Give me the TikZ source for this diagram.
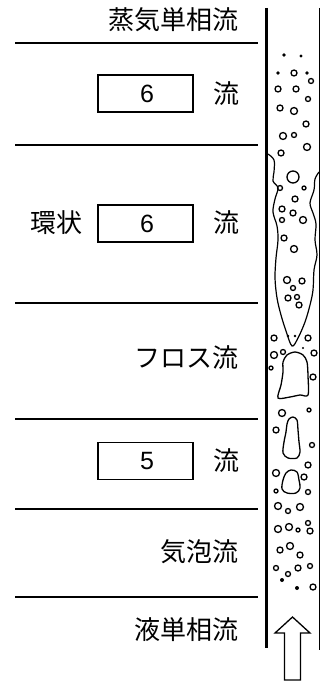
\documentclass[tikz,border=0pt]{standalone}
\usepackage{fontspec}
\setmainfont{Noto Sans CJK JP}
\newfontfamily\digitfont{Liberation Sans}
\begin{document}
\begin{tikzpicture}[x=1pt,y=-1pt,
  sepline/.style={line width=1.4pt},
  lbl/.style={font=\fontsize{26}{28}\selectfont, inner sep=0pt},
  numbox/.style={draw, line width=1.4pt, minimum width=95pt, minimum height=37pt, inner sep=0pt,
    font=\digitfont\fontsize{25}{27}\selectfont},
  wall/.style={line width=3.2pt},
  thinwall/.style={line width=1pt},
  bub/.style={draw, line width=1.3pt},
  drop/.style={fill=black},
  film/.style={line width=1.2pt}]
\useasboundingbox (0,0) rectangle (321,684);

% separators
\foreach \yy/\nm in {43/s1,145/s2,303/s3,419/s4,509/s5,597/s6}{
  \coordinate (\nm a) at (15,\yy); \coordinate (\nm b) at (258,\yy);
  \draw[sepline] (\nm a) -- (\nm b);
}

% labels
\node[lbl, anchor=east] (t1) at (239,20) {蒸気単相流};
\node[numbox] (b1) at (145.5,93.5) {\hspace{3pt}6};
\node[lbl] (f1) at (226,94) {流};
\node[lbl] (k2) at (56,223) {環状};
\node[numbox] (b2) at (145.5,223.5) {\hspace{3pt}6};
\node[lbl] (f2) at (226,223) {流};
\node[lbl, anchor=east] (t3) at (239,358) {フロス流};
\node[numbox] (b3) at (145.5,461) {\hspace{3pt}5};
\node[lbl] (f3) at (226,461) {流};
\node[lbl, anchor=east] (t5) at (239,552) {気泡流};
\node[lbl, anchor=east] (t6) at (239,630) {液単相流};

% tube walls
\coordinate (lw1) at (266.5,8); \coordinate (lw2) at (266.5,648);
\coordinate (rw1) at (319.5,8); \coordinate (rw2) at (319.5,650);
\draw[wall] (lw1) -- (lw2);
\draw[thinwall] (rw1) -- (rw2);

% annular core outline
\draw[film] plot[smooth, tension=0.55] coordinates {
  (268,154) (274,160) (274,172) (273,181) (278,188) (275,199) (273,212) (277,226)
  (278,240) (276,258) (275,278) (277,298) (281,315) (286,331) (292,346)
  (298,338) (305,322) (310,305) (313,290) (314,270) (317,255) (315,240) (316,224)
  (313,213) (310,203) (314,190) (315,179) (319,172)};

% slugs
\draw[bub] plot[smooth cycle, tension=0.5] coordinates {
  (278,398) (281,385) (283,372) (283,362) (287,355) (295,352) (303,355) (307,362)
  (308,376) (308,395) (300,395) (290,397)};
\draw[bub] plot[smooth cycle, tension=0.5] coordinates {
  (287,424) (289,419) (293,417) (297,420) (298,430) (299,442) (300,452) (297,458)
  (288,458) (283,453) (284,442) (286,432)};
\draw[bub] plot[smooth cycle, tension=0.55] coordinates {
  (291,470) (297,472) (299,480) (300,488) (296,493) (287,493) (282,489) (283,480) (286,473)};

% droplets (filled)
\foreach \px/\py/\r in {284/55/1.8, 301/56/1.6, 278/73/1.8, 307/73/1.8, 288/336/1.3, 295/336/1.3,
  303/348/1.2, 282/580/2, 297/588/2}{
  \fill[drop] (\px,\py) circle[radius=\r];
}

% bubbles (open)
\foreach \px/\py/\r in {294/73/3, 311/81/2.5, 278/89/3, 296/89/3, 308/99/2.5, 280/108/3, 294/111/3.5,
  306/124/3, 283/136/3.5, 294/135/2.5, 281/153/3, 307/147/3.5,
  293/177/6, 280/188/2.5, 304/188/2, 295/199/3, 282/209/3, 293/213/3, 303/220/3.5, 282/220/2.5,
  284/238/3, 294/249/3.5, 287/280/3.5, 302/281/3, 293/288/2.5, 288/298/3, 297/297/2.5, 299/305/3,
  274/338/3, 308/338/3, 274/355/3.5, 283/352/2.5, 314/353/3, 271/368/2, 313/377/3,
  282/413/3.5, 309/410/2, 276/430/3, 312/445/2.5,
  308/465/3, 276/473/3.5, 304/477/3, 276/491/2, 308/492/2.5,
  278/506/3.5, 288/511/2.5, 300/507/3.5, 278/529/3.5, 289/527/3.5, 298/530/2, 308/523/2.5, 310/531/3,
  280/550/3, 290/546/3.5, 300/555/3, 276/568/2.5, 288/574/2.5, 298/568/3, 310/566/2.5, 313/587/3}{
  \draw[bub] (\px,\py) circle[radius=\r];
}

% inlet arrow
\draw[line width=1.3pt, line join=miter] (292.5,617) -- (310,633) -- (300.5,633) -- (300.5,680)
  -- (284.5,680) -- (284.5,633) -- (275,633) -- cycle;
\end{tikzpicture}
\end{document}
